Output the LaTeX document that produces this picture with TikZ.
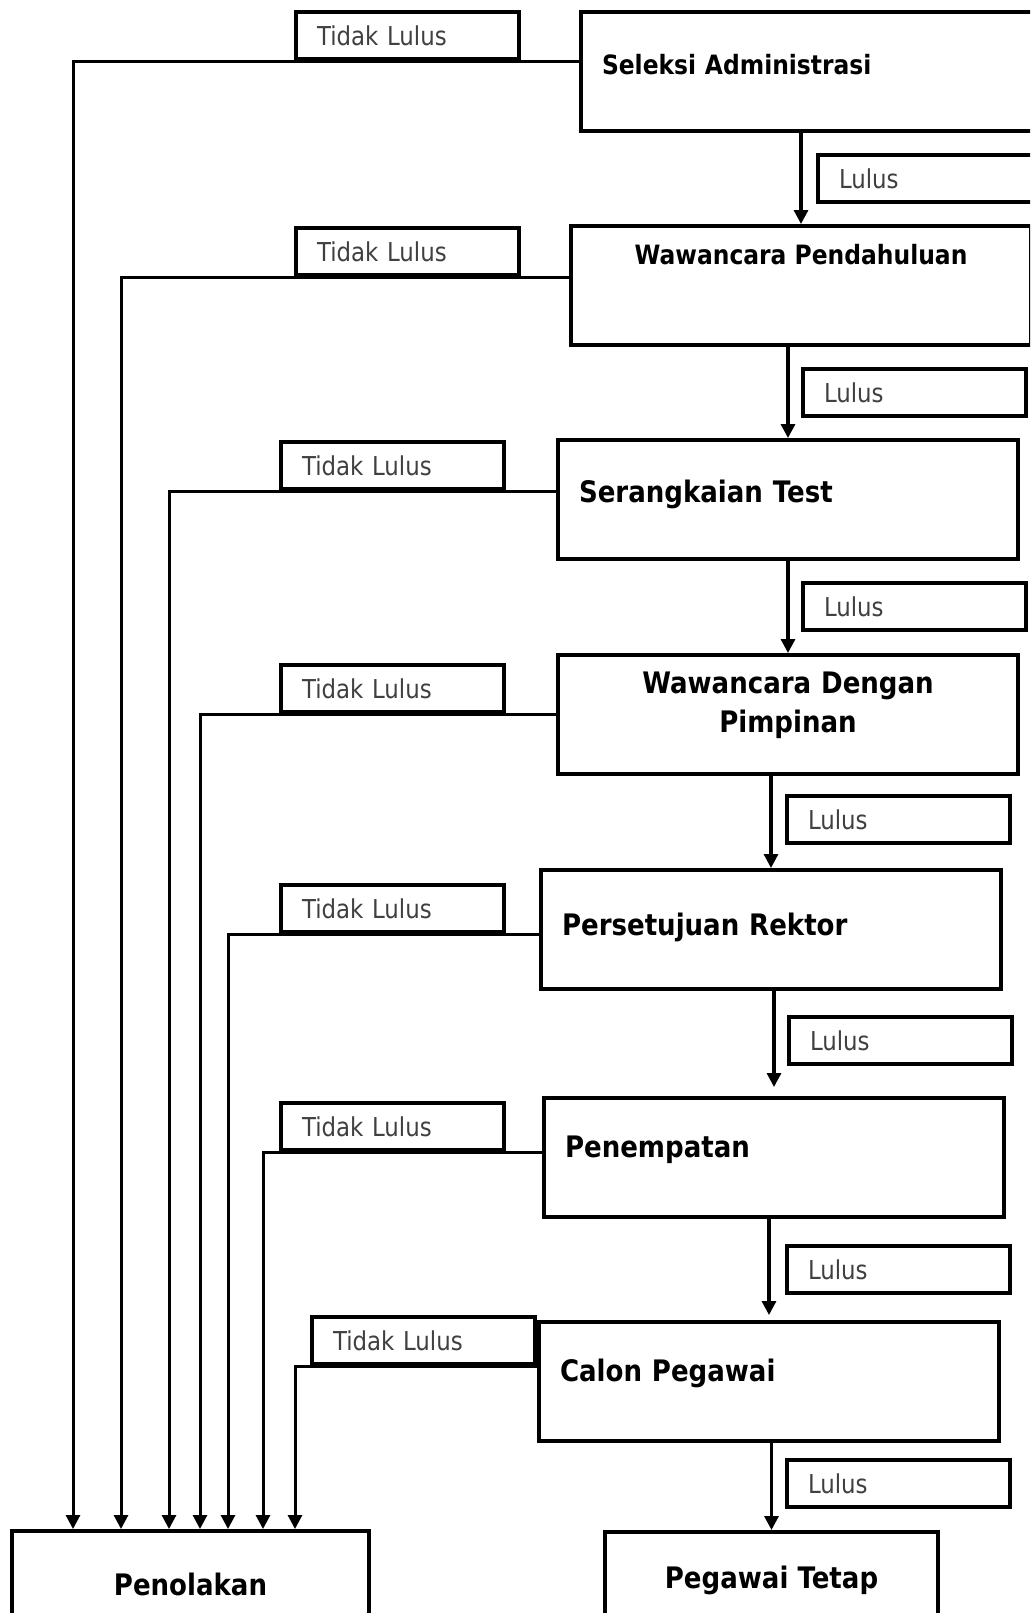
\documentclass[tikz,border=0pt]{standalone}
\usepackage{fontspec}
\setmainfont{DejaVu Sans}[FakeStretch=0.88]
\usetikzlibrary{arrows.meta}

\begin{document}
\begin{tikzpicture}[x=0.5pt, y=-0.5pt,
  stage/.style={draw, line width=2pt, fill=white, anchor=north west, minimum width=230pt, minimum height=59.5pt, inner ysep=0pt, font=\fontsize{14.8}{19.5}\selectfont\bfseries},
  stageL/.style={stage, text width=209pt, inner xsep=10.5pt, align=left, text height=31pt, text depth=28.5pt},
  tag/.style={draw, line width=2pt, fill=white, anchor=north west, minimum height=23.5pt, text width=90.5pt, inner xsep=10.5pt, inner ysep=0pt, align=left, text=black!75, font=\fontsize{13}{15}\selectfont},
  pass/.style={line width=1.6pt, -{Triangle[length=7pt, width=7pt]}},
  fail/.style={line width=1.5pt, -{Triangle[length=7pt, width=7pt]}}]
  \useasboundingbox (0,0) rectangle (1030,1613);
  \clip (0,0) rectangle (1030,1613);

  % stages
  \node[stageL, font=\fontsize{13.3}{16}\selectfont\bfseries] (sel) at (579,10) {Seleksi Administrasi};
  \node[stage, font=\fontsize{13.3}{16}\selectfont\bfseries, text height=19pt, text depth=40.5pt] (pend) at (569,224) {Wawancara Pendahuluan};
  \node[stageL] (test) at (556,438) {Serangkaian Test};
  \node[stageL, align=center, text height=19.3pt, text depth=40.2pt] (pimp) at (556,653) {Wawancara Dengan\\Pimpinan};
  \node[stageL, text height=32.5pt, text depth=27pt] (rek) at (539,868) {Persetujuan Rektor};
  \node[stageL, text height=29.5pt, text depth=30pt] (tempat) at (542,1096) {Penempatan};
  \node[stageL, text height=29.5pt, text depth=30pt] (calon) at (537,1320) {Calon Pegawai};
  \node[stage, minimum width=178.5pt, minimum height=55.5pt, text height=32.2pt, text depth=23.3pt] (tolak) at (10,1529) {Penolakan};
  \node[stage, minimum width=166.5pt, minimum height=45pt, text height=28pt, text depth=17pt] (tetap) at (603,1530) {Pegawai Tetap};

  % lulus
  \draw[pass] (sel.south -| pend.north) -- (pend.north);
  \draw[pass] (pend.south -| test.north) -- (test.north);
  \draw[pass] (test.south -| pimp.north) -- (pimp.north);
  \draw[pass] (pimp.south -| rek.north) -- (rek.north);
  \draw[pass, shorten >=4.5pt] (rek.south -| tempat.north) -- (tempat.north);
  \draw[pass, shorten >=2.5pt] (tempat.south -| calon.north) -- (calon.north);
  \draw[pass] (calon.south -| tetap.north) -- (tetap.north);

  \node[tag] (ls1) at (816,153) {Lulus};
  \node[tag] (ls2) at (801,367) {Lulus};
  \node[tag] (ls3) at (801,581) {Lulus};
  \node[tag] (ls4) at (785,794) {Lulus};
  \node[tag] (ls5) at (787,1015) {Lulus};
  \node[tag] (ls6) at (785,1244) {Lulus};
  \node[tag] (ls7) at (785,1458) {Lulus};

  % tidak lulus
  \node[tag] (tl1) at (294,10) {Tidak Lulus};
  \node[tag] (tl2) at (294,226) {Tidak Lulus};
  \node[tag] (tl3) at (279,440) {Tidak Lulus};
  \node[tag] (tl4) at (279,663) {Tidak Lulus};
  \node[tag] (tl5) at (279,883) {Tidak Lulus};
  \node[tag] (tl6) at (279,1101) {Tidak Lulus};
  \node[tag] (tl7) at (310,1315) {Tidak Lulus};

  \foreach \s/\t/\dx in {sel/tl1/31.5, pend/tl2/55.5, test/tl3/79.5, pimp/tl4/95,
                          rek/tl5/109, tempat/tl6/126.5, calon/tl7/142.5}
    \draw[fail] (\s.west |- \t.south) -| ([xshift=\dx pt]tolak.north west);
\end{tikzpicture}
\end{document}
